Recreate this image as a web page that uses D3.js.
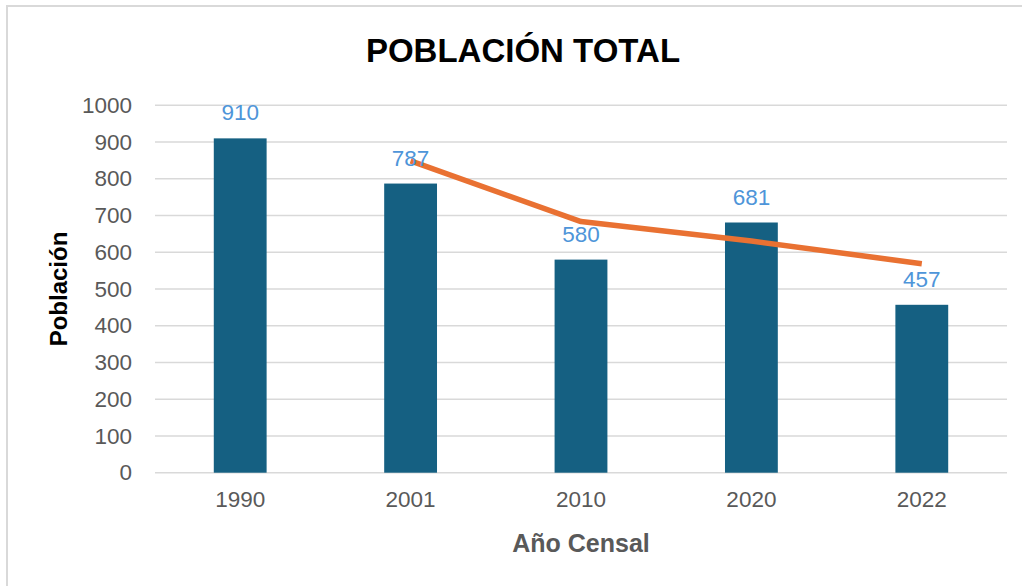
<!DOCTYPE html>
<html>
<head>
<meta charset="utf-8">
<script src="https://cdn.jsdelivr.net/npm/d3@7"></script>
<style>
  html, body { margin: 0; padding: 0; background: #ffffff; }
  svg { display: block; }
  text { font-family: "Liberation Sans", Arial, Helvetica, sans-serif; }
</style>
</head>
<body>
<svg id="chart" width="1022" height="586"></svg>
<script>
// Census years and total population
const years = ["1990", "2001", "2010", "2020", "2022"];
const population = [910, 787, 580, 681, 457];
// Two-period moving average trend (starts at the second census)
const trendYears = ["2001", "2010", "2020", "2022"];
const trendValues = [848.5, 683.5, 630.5, 569];
const yTicks = [0, 100, 200, 300, 400, 500, 600, 700, 800, 900, 1000];

const svg = d3.select("#chart");
const W = 1022, H = 586;
const plot = { left: 155, right: 1007, top: 105.3, bottom: 472.7 };
const labelSize = 22.5;

// Chart frame (only the top and left edges fall inside the view)
svg.append("rect")
  .attr("x", 7).attr("y", 6)
  .attr("width", W + 20).attr("height", H + 20)
  .attr("fill", "#ffffff")
  .attr("stroke", "#d9d9d9").attr("stroke-width", 2);

const x = d3.scaleBand().domain(years).range([plot.left, plot.right]).paddingInner(0.69).paddingOuter(0.345);
const y = d3.scaleLinear().domain([0, 1000]).range([plot.bottom, plot.top]);

// Horizontal gridlines
svg.append("g").selectAll("line").data(yTicks).join("line")
  .attr("x1", plot.left).attr("x2", plot.right)
  .attr("y1", d => y(d)).attr("y2", d => y(d))
  .attr("stroke", "#d9d9d9").attr("stroke-width", 1.5);

// Y axis labels
const yAxis = svg.append("g")
  .attr("transform", `translate(${plot.left},0)`)
  .call(d3.axisLeft(y).tickValues(yTicks).tickFormat(d3.format("d")).tickSize(0).tickPadding(23));
yAxis.select(".domain").remove();
yAxis.selectAll("text")
  .attr("font-size", labelSize).attr("fill", "#595959")
  .attr("font-family", "Liberation Sans, Arial, sans-serif");

// X axis labels
const xAxis = svg.append("g")
  .attr("transform", `translate(0,${plot.bottom})`)
  .call(d3.axisBottom(x).tickSize(0).tickPadding(18));
xAxis.select(".domain").remove();
xAxis.selectAll("text")
  .attr("font-size", labelSize).attr("fill", "#595959")
  .attr("font-family", "Liberation Sans, Arial, sans-serif");

// Bars
svg.append("g").selectAll("rect").data(years).join("rect")
  .attr("x", d => x(d))
  .attr("width", x.bandwidth())
  .attr("y", (d, i) => y(population[i]))
  .attr("height", (d, i) => plot.bottom - y(population[i]))
  .attr("fill", "#156082");

// Trend line
const line = d3.line()
  .x(d => x(d[0]) + x.bandwidth() / 2)
  .y(d => y(d[1]));
svg.append("path")
  .datum(trendYears.map((yr, i) => [yr, trendValues[i]]))
  .attr("d", line)
  .attr("fill", "none")
  .attr("stroke", "#E97132")
  .attr("stroke-width", 5.5)
  .attr("stroke-linejoin", "round");

// Value labels above bars
svg.append("g").selectAll("text").data(years).join("text")
  .attr("x", d => x(d) + x.bandwidth() / 2)
  .attr("y", (d, i) => y(population[i]) - 18)
  .attr("text-anchor", "middle")
  .attr("font-size", labelSize)
  .attr("fill", "#4E95D9")
  .text((d, i) => population[i]);

// Title
svg.append("text")
  .attr("x", 523).attr("y", 62)
  .attr("text-anchor", "middle")
  .attr("font-size", 33).attr("font-weight", "bold")
  .attr("fill", "#000000")
  .text("POBLACIÓN TOTAL");

// Axis titles
svg.append("text")
  .attr("transform", `translate(67,${(plot.top + plot.bottom) / 2}) rotate(-90)`)
  .attr("text-anchor", "middle")
  .attr("font-size", 24).attr("font-weight", "bold")
  .attr("fill", "#000000")
  .text("Población");

svg.append("text")
  .attr("x", (plot.left + plot.right) / 2).attr("y", 552)
  .attr("text-anchor", "middle")
  .attr("font-size", 25).attr("font-weight", "bold")
  .attr("fill", "#595959")
  .text("Año Censal");
</script>
</body>
</html>
